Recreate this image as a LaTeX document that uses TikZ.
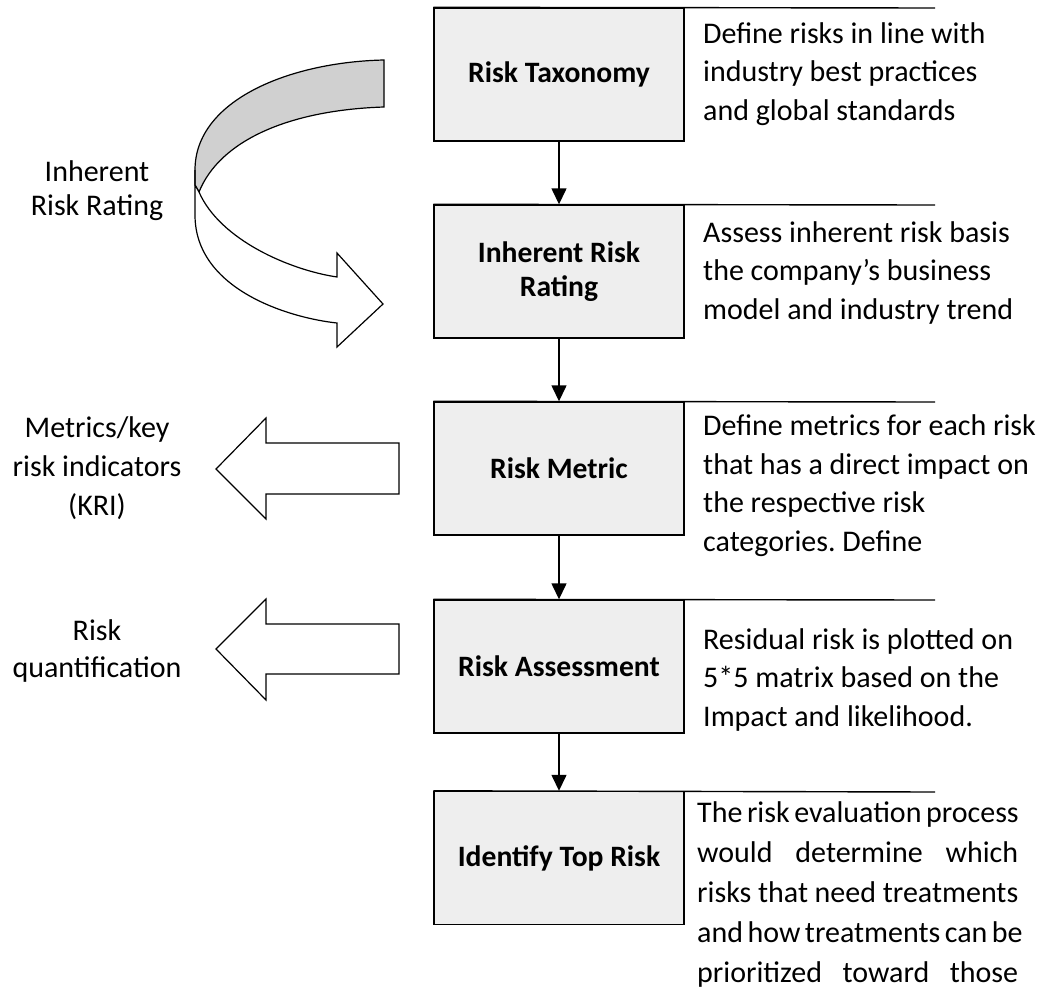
\documentclass[tikz,border=0pt]{standalone}
\usepackage{fontspec}
\setmainfont{Carlito}
\usetikzlibrary{arrows.meta}
\definecolor{boxgrey}{HTML}{EEEEEE}
\definecolor{ribbongrey}{HTML}{D0D0D0}
\frenchspacing
\begin{document}
\begin{tikzpicture}[x=1pt,y=-1pt,
  stepbox/.style={draw, line width=1.4pt, fill=boxgrey, minimum width=250pt, minimum height=133pt,
    font=\bfseries\fontsize{29.6}{34}\selectfont, align=center, inner sep=0pt},
  desc/.style={anchor=base west, align=left, font=\fontsize{30}{38.5}\selectfont, inner sep=0pt},
  side/.style={anchor=base, align=center, inner sep=0pt},
  flow/.style={line width=1.4pt, -{Triangle[length=16pt,width=15pt]}},
  topline/.style={line width=1.4pt},
  blockarrow/.style={draw, line width=1.2pt, fill=white, line join=miter},
  ribbon/.style={draw, line width=1.2pt, line join=miter}
]
\useasboundingbox (0,0) rectangle (1042,988);

% step boxes
\node[stepbox] (b1) at (559,74.5) {Risk Taxonomy};
\node[stepbox] (b2) at (559,271.5) {Inherent Risk\\Rating};
\node[stepbox] (b3) at (559,468.5) {Risk Metric};
\node[stepbox] (b4) at (559,666.5) {Risk Assessment};
\node[stepbox] (b5) at (559,858) {Identify Top Risk};

% top lines
\coordinate (e1) at (935,8);
\coordinate (e2) at (935,205);
\coordinate (e3) at (935,402);
\coordinate (e4) at (935,600);
\coordinate (e5) at (935,792);
\draw[topline] (b1.north west) -- (e1);
\draw[topline] (b2.north west) -- (e2);
\draw[topline] (b3.north west) -- (e3);
\draw[topline] (b4.north west) -- (e4);
\draw[topline] (b5.north west) -- (e5);

% connectors
\draw[flow] (b1.south) -- (b2.north);
\draw[flow] (b2.south) -- (b3.north);
\draw[flow] (b3.south) -- (b4.north);
\draw[flow] (b4.south) -- (b5.north);

% descriptions (anchored at the baseline of the last line)
\node[desc] (d1) at (703,120) {Define risks in line with\\industry best practices\\and global standards};
\node[desc] (d2) at (703,319) {Assess inherent risk basis\\the company’s business\\model and industry trend};
\node[desc] (d3) at (703,551) {Define metrics for each risk\\that has a direct impact on\\the respective risk\\categories. Define};
\node[desc] (d4) at (703,726) {Residual risk is plotted on\\5*5 matrix based on the\\Impact and likelihood.};
\node[desc, font=\fontsize{30}{40}\selectfont] (d5) at (697,982) {%
  \makebox[321pt][s]{The risk evaluation process}\\
  \makebox[321pt][s]{would determine which}\\
  \makebox[321pt][s]{risks that need treatments}\\
  \makebox[321pt][s]{and how treatments can be}\\
  \makebox[321pt][s]{prioritized toward those}};

% side labels
\node[side, font=\fontsize{30}{34}\selectfont] (s1) at (97,215) {Inherent\\Risk Rating};
\node[side, font=\fontsize{30}{39}\selectfont] (s2) at (97,515) {Metrics/key\\risk indicators\\(KRI)};
\node[side, font=\fontsize{30}{37}\selectfont] (s3) at (97,677) {Risk\\quantification};

% curved ribbon arrow: back (grey) part
\draw[ribbon, fill=ribbongrey] (384,60) .. controls (290,62) and (195,100) .. (195,170)
  -- (195,185) -- (199,192) .. controls (220,140) and (290,110) .. (384,107) -- cycle;
% front (white) part with head
\draw[ribbon, fill=white] (195,170) -- (195,215) .. controls (195,290) and (290,318) .. (337,323)
  -- (337,347) -- (383,304) -- (337,253) -- (337,277)
  .. controls (290,270) and (220,240) .. (199,192) -- (195,185) -- cycle;

% block arrows
\draw[blockarrow] (216,469) -- (266,418) -- (266,443) -- (399,443) -- (399,494) -- (266,494) -- (266,519) -- cycle;
\draw[blockarrow] (216,649) -- (266,599) -- (266,624) -- (399,624) -- (399,674) -- (266,674) -- (266,700) -- cycle;
\end{tikzpicture}
\end{document}
